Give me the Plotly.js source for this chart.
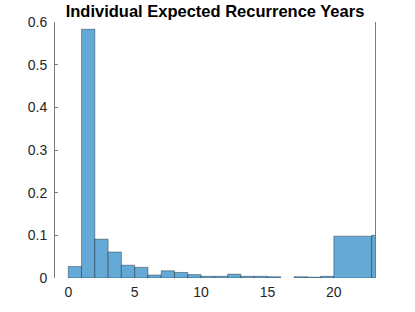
<!DOCTYPE html>
<html>
<head>
<meta charset="utf-8">
<script src="https://cdn.plot.ly/plotly-3.0.1.min.js"></script>
<style>html,body{margin:0;padding:0;background:#fff;} #chart{width:415px;height:312px;}</style>
</head>
<body>
<div id="chart"></div>
<script>
// Histogram bin edges (years) and normalized frequencies
var binStarts = [0, 1, 2, 3, 4, 5, 6, 7, 8, 9, 10, 11, 12, 13, 14, 15, 16, 17, 18, 19, 20, 22.85];
var binEnds   = [1, 2, 3, 4, 5, 6, 7, 8, 9, 10, 11, 12, 13, 14, 15, 16, 17, 18, 19, 20, 22.85, 25];
var probabilities = [0.027, 0.583, 0.091, 0.061, 0.030, 0.025, 0.007, 0.017, 0.013, 0.008,
                     0.004, 0.004, 0.009, 0.004, 0.004, 0.003, null, 0.003, 0.002, 0.004,
                     0.098, 0.100];
var xTickVals = [0, 5, 10, 15, 20];
var yTickVals = [0, 0.1, 0.2, 0.3, 0.4, 0.5, 0.6];
var yTickText = ['0', '0.1', '0.2', '0.3', '0.4', '0.5', '0.6'];
var titleText = 'Individual Expected Recurrence Years';

var centers = binStarts.map(function (s, i) { return (s + binEnds[i]) / 2; });
var widths = binStarts.map(function (s, i) { return binEnds[i] - s; });

var trace = {
  type: 'bar',
  x: centers,
  y: probabilities,
  width: widths,
  marker: {
    color: 'rgb(101,169,215)',
    line: { color: 'rgba(0,0,0,0.6)', width: 0.6 }
  },
  hoverinfo: 'skip'
};

var fontFam = '"Liberation Sans", Arial, Helvetica, sans-serif';
var layout = {
  width: 415,
  height: 312,
  margin: { l: 55, r: 40, t: 22, b: 34, pad: 0 },
  paper_bgcolor: '#ffffff',
  plot_bgcolor: '#ffffff',
  showlegend: false,
  bargap: 0,
  font: { family: fontFam, size: 14, color: '#262626' },
  title: {
    text: '<b>' + titleText + '</b>',
    font: { family: fontFam, size: 16.5, color: '#000000' },
    x: 0.5, xref: 'paper', xanchor: 'center',
    y: 1 - 11 / 312, yref: 'container', yanchor: 'middle'
  },
  xaxis: {
    range: [-1, 23.1],
    tickvals: xTickVals,
    ticktext: xTickVals.map(String),
    showline: false,
    showgrid: false,
    zeroline: false,
    ticks: '',
    ticklabelstandoff: 4,
    tickfont: { family: fontFam, size: 14, color: '#262626' }
  },
  yaxis: {
    range: [0, 0.6],
    tickvals: yTickVals,
    ticktext: yTickText,
    showline: true,
    mirror: true,
    linecolor: '#7a7a7a',
    linewidth: 1,
    showgrid: false,
    zeroline: false,
    ticks: 'inside',
    ticklen: 3,
    tickcolor: '#7a7a7a',
    ticklabelstandoff: 4,
    tickfont: { family: fontFam, size: 14, color: '#262626' }
  }
};

Plotly.newPlot('chart', [trace], layout, { staticPlot: true, displayModeBar: false });
</script>
</body>
</html>
